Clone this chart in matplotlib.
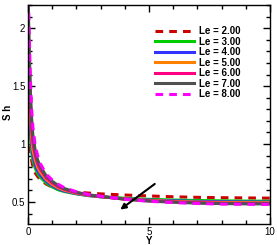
import numpy as np
import matplotlib
matplotlib.use("Agg")
import matplotlib.pyplot as plt
from matplotlib.ticker import MultipleLocator

y_pos = [0, 0.05, 0.1, 0.15, 0.2, 0.3, 0.4, 0.5, 0.75, 1.0, 1.25, 1.5,
         2.0, 2.5, 3.0, 4.0, 5.0, 6.0, 7.0, 8.0, 9.0, 10.0]

sh_le2 = [1.70, 1.20, 0.95, 0.86, 0.81, 0.75, 0.72, 0.695, 0.655, 0.628, 0.61, 0.598,
          0.585, 0.577, 0.570, 0.560, 0.552, 0.545, 0.540, 0.537, 0.535, 0.533]
sh_le3 = [1.90, 1.35, 1.05, 0.93, 0.86, 0.79, 0.745, 0.715, 0.665, 0.63, 0.605, 0.59,
          0.570, 0.555, 0.545, 0.532, 0.523, 0.517, 0.513, 0.510, 0.508, 0.507]
sh_le4 = [2.00, 1.50, 1.15, 0.99, 0.90, 0.82, 0.77, 0.735, 0.68, 0.64, 0.613, 0.595,
          0.572, 0.556, 0.545, 0.528, 0.517, 0.510, 0.505, 0.502, 0.500, 0.499]
sh_le5 = [2.10, 1.62, 1.25, 1.06, 0.95, 0.86, 0.80, 0.76, 0.695, 0.652, 0.622, 0.602,
          0.576, 0.558, 0.546, 0.526, 0.513, 0.505, 0.499, 0.496, 0.494, 0.493]
sh_le6 = [2.20, 1.72, 1.35, 1.13, 1.01, 0.90, 0.83, 0.785, 0.71, 0.665, 0.632, 0.609,
          0.580, 0.560, 0.547, 0.525, 0.510, 0.501, 0.494, 0.490, 0.488, 0.487]
sh_le7 = [2.30, 1.82, 1.45, 1.22, 1.08, 0.94, 0.86, 0.81, 0.725, 0.678, 0.642, 0.616,
          0.584, 0.562, 0.548, 0.524, 0.508, 0.498, 0.490, 0.486, 0.484, 0.483]
sh_le8 = [2.45, 1.95, 1.55, 1.30, 1.15, 0.98, 0.90, 0.835, 0.74, 0.69, 0.652, 0.623,
          0.588, 0.565, 0.550, 0.523, 0.506, 0.495, 0.487, 0.482, 0.480, 0.479]

labels = ["Le = 2.00", "Le = 3.00", "Le = 4.00", "Le = 5.00",
          "Le = 6.00", "Le = 7.00", "Le = 8.00"]
series = [sh_le2, sh_le3, sh_le4, sh_le5, sh_le6, sh_le7, sh_le8]
colors = ["#cc0000", "#00cc00", "#3333ff", "#ff8000", "#ff0080", "#505050", "#ff00ff"]
dashed = [True, False, False, False, False, False, True]

plt.rcParams["font.family"] = ["Liberation Sans", "DejaVu Sans"]

fig = plt.figure(figsize=(2.77, 2.45), dpi=100)
ax = fig.add_axes([28 / 277, 21 / 245, 242 / 277, 219 / 245])

for sh, lab, col, dsh in zip(series, labels, colors, dashed):
    if dsh:
        ax.plot(y_pos, sh, color=col, lw=2.2, dashes=(2.5, 2), label=lab)
    else:
        ax.plot(y_pos, sh, color=col, lw=2.2, label=lab)

ax.set_xlim(0, 10)
ax.set_ylim(0.31, 2.2)

ax.set_xticks([0, 5, 10])
ax.set_xticklabels(["0", "5", "10"])
ax.set_yticks([0.5, 1, 1.5, 2])
ax.set_yticklabels(["0.5", "1", "1.5", "2"])
ax.xaxis.set_minor_locator(MultipleLocator(1))
ax.yaxis.set_minor_locator(MultipleLocator(0.1))
ax.tick_params(which="both", direction="in", top=True, right=True,
               labelsize=7, width=1, pad=2)
ax.tick_params(which="major", length=5)
ax.tick_params(which="minor", length=3)
for s in ax.spines.values():
    s.set_linewidth(1)

ax.set_xlabel("Y", fontsize=7, fontweight="bold")
ax.xaxis.set_label_coords(0.5, -0.055)
ax.set_ylabel("S h", fontsize=7, fontweight="bold")
ax.yaxis.set_label_coords(-0.06, 0.51)

ax.annotate("", xy=(3.72, 0.42), xytext=(5.33, 0.67),
            arrowprops=dict(arrowstyle="-|>", color="black", lw=1.5,
                            mutation_scale=8))

ax.legend(loc="upper left", bbox_to_anchor=(0.505, 0.925), frameon=False,
          handlelength=4, labelspacing=0.05, borderpad=0, handletextpad=0.5,
          prop={"size": 7, "weight": "bold"})

fig.savefig("out.png", dpi=100)
